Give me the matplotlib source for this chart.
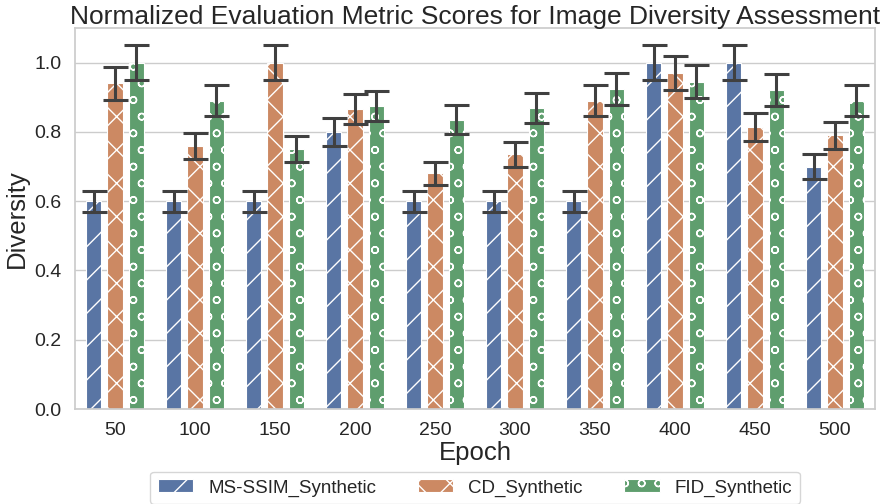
import numpy as np
import seaborn as sns
from matplotlib import pyplot as plt

epochs = ['50', '100', '150', '200', '250', '300', '350', '400', '450', '500']
ms_ssim = [0.60, 0.60, 0.60, 0.80, 0.60, 0.60, 0.60, 1.00, 1.00, 0.70]
cd = [0.94, 0.76, 1.00, 0.865, 0.68, 0.735, 0.89, 0.97, 0.815, 0.79]
fid = [1.00, 0.89, 0.75, 0.875, 0.835, 0.87, 0.925, 0.945, 0.92, 0.89]
series_names = ['MS-SSIM_Synthetic', 'CD_Synthetic', 'FID_Synthetic']
err_frac = 0.05  # error bars are 5% of each value

sns.set_theme(style='whitegrid')
plt.rcParams['font.family'] = ['Liberation Sans', 'DejaVu Sans']

colors = [sns.desaturate(c, 0.75) for c in sns.color_palette('deep')[:3]]
hatches = ['/', 'x', 'o']

fig, ax = plt.subplots(figsize=(8.81, 5.04), dpi=100)
fig.subplots_adjust(left=75 / 881, right=875 / 881, top=1 - 28 / 504, bottom=1 - 409 / 504)

x = np.arange(len(epochs))
offset = 0.265
width = 0.19
for i, vals in enumerate([ms_ssim, cd, fid]):
    vals = np.array(vals)
    ax.bar(x + (i - 1) * offset, vals, width, color=colors[i], edgecolor='white',
           linewidth=0.8, hatch=hatches[i], label=series_names[i],
           yerr=vals * err_frac, capsize=9,
           error_kw=dict(ecolor='#404040', elinewidth=2.2, capthick=2.2))

ax.set_xticks(x)
ax.set_xticklabels(epochs)
ax.set_xlim(-0.5, 9.5)
ax.set_ylim(0, 1.1)
ax.set_yticks(np.arange(0, 1.01, 0.2))
ax.tick_params(labelsize=14)
ax.set_xlabel('Epoch', fontsize=18.5, labelpad=1)
ax.set_ylabel('Diversity', fontsize=18.5)
ax.set_title('Normalized Evaluation Metric Scores for Image Diversity Assessment', fontsize=19, pad=3)
ax.xaxis.grid(False)

ax.legend(loc='upper center', bbox_to_anchor=(0.5, -0.14), ncol=3, fontsize=13.5,
          columnspacing=2.2, handlelength=1.9, frameon=True)

plt.savefig('out.png', dpi=100)
